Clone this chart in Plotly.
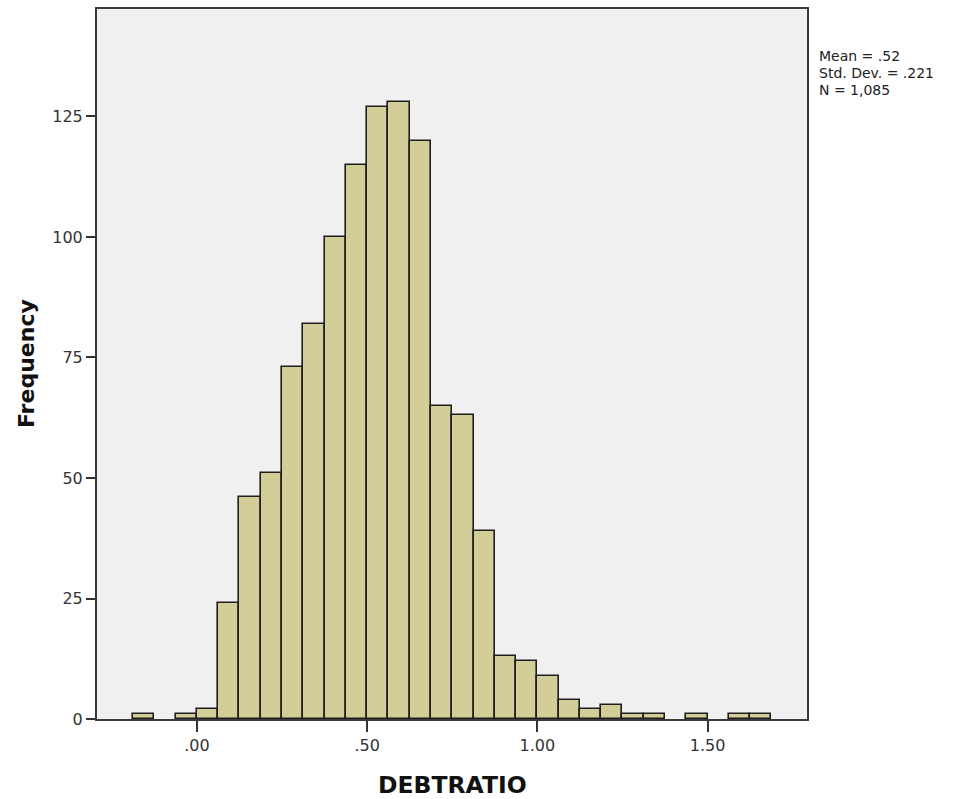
import plotly.graph_objects as go

# Histogram of DEBTRATIO: bin width 0.0625, bins aligned on 0
bin_width = 0.0625
bin_starts = [-0.1875 + i * 0.0625 for i in range(30)]
counts = [1, 0, 1, 2, 24, 46, 51, 73, 82, 100, 115, 127, 128, 120, 65,
          63, 39, 13, 12, 9, 4, 2, 3, 1, 1, 0, 1, 0, 1, 1]

x_tick_vals = [0.0, 0.5, 1.0, 1.5]
x_tick_text = [".00", ".50", "1.00", "1.50"]
y_tick_vals = [0, 25, 50, 75, 100, 125]

x_title = "DEBTRATIO"
y_title = "Frequency"
stats_lines = ["Mean = .52", "Std. Dev. = .221", "N = 1,085"]

FONT = "DejaVu Sans, Verdana, sans-serif"

# plot-area geometry in pixels
L, R, T, B = 97, 156, 7, 80
W, H = 963, 799
PW, PH = W - L - R, H - T - B


def px_x(x):
    return (x - L) / PW


def px_y(y):
    return (H - B - y) / PH


xs = [s + bin_width / 2 for s, c in zip(bin_starts, counts) if c > 0]
ys = [c for c in counts if c > 0]

fig = go.Figure(
    go.Bar(
        x=xs,
        y=ys,
        width=bin_width,
        marker=dict(color="#D3CE97", line=dict(color="#1e1e1e", width=1.6)),
        hoverinfo="x+y",
    )
)

fig.update_layout(
    width=W,
    height=H,
    margin=dict(l=L, r=R, t=T, b=B),
    paper_bgcolor="white",
    plot_bgcolor="#F0F0F0",
    showlegend=False,
    bargap=0,
    font=dict(family=FONT, color="#222"),
)

fig.update_xaxes(
    range=[-0.2935, 1.792],
    tickvals=x_tick_vals,
    ticktext=x_tick_text,
    ticks="outside",
    ticklen=11,
    tickwidth=1.5,
    tickcolor="#333",
    tickfont=dict(size=16, color="#333", family=FONT),
    showgrid=False,
    zeroline=False,
    showline=True,
    linecolor="#3a3a3a",
    linewidth=2,
    mirror=True,
)

fig.update_yaxes(
    range=[0, 147.3],
    tickvals=y_tick_vals,
    ticks="outside",
    ticklen=9,
    tickwidth=1.5,
    tickcolor="#333",
    tickfont=dict(size=16, color="#333", family=FONT),
    showgrid=False,
    zeroline=False,
    showline=True,
    linecolor="#3a3a3a",
    linewidth=2,
    mirror=True,
)

# axis titles
fig.add_annotation(
    xref="paper", yref="paper",
    x=px_x(452), y=px_y(785),
    xanchor="center", yanchor="middle",
    showarrow=False,
    text=f"<b>{x_title}</b>",
    font=dict(size=23.5, color="#111", family=FONT),
)
fig.add_annotation(
    xref="paper", yref="paper",
    x=px_x(26), y=px_y(363),
    xanchor="center", yanchor="middle",
    textangle=-90,
    showarrow=False,
    text=f"<b>{y_title}</b>",
    font=dict(size=22, color="#111", family=FONT),
)

# summary statistics, one line each
for line, cy in zip(stats_lines, [54, 71, 88]):
    fig.add_annotation(
        xref="paper", yref="paper",
        x=px_x(818), y=px_y(cy),
        xanchor="left", yanchor="middle",
        showarrow=False,
        borderpad=0,
        text=line,
        font=dict(size=14, color="#222", family=FONT),
    )

fig.write_html("out.html")
